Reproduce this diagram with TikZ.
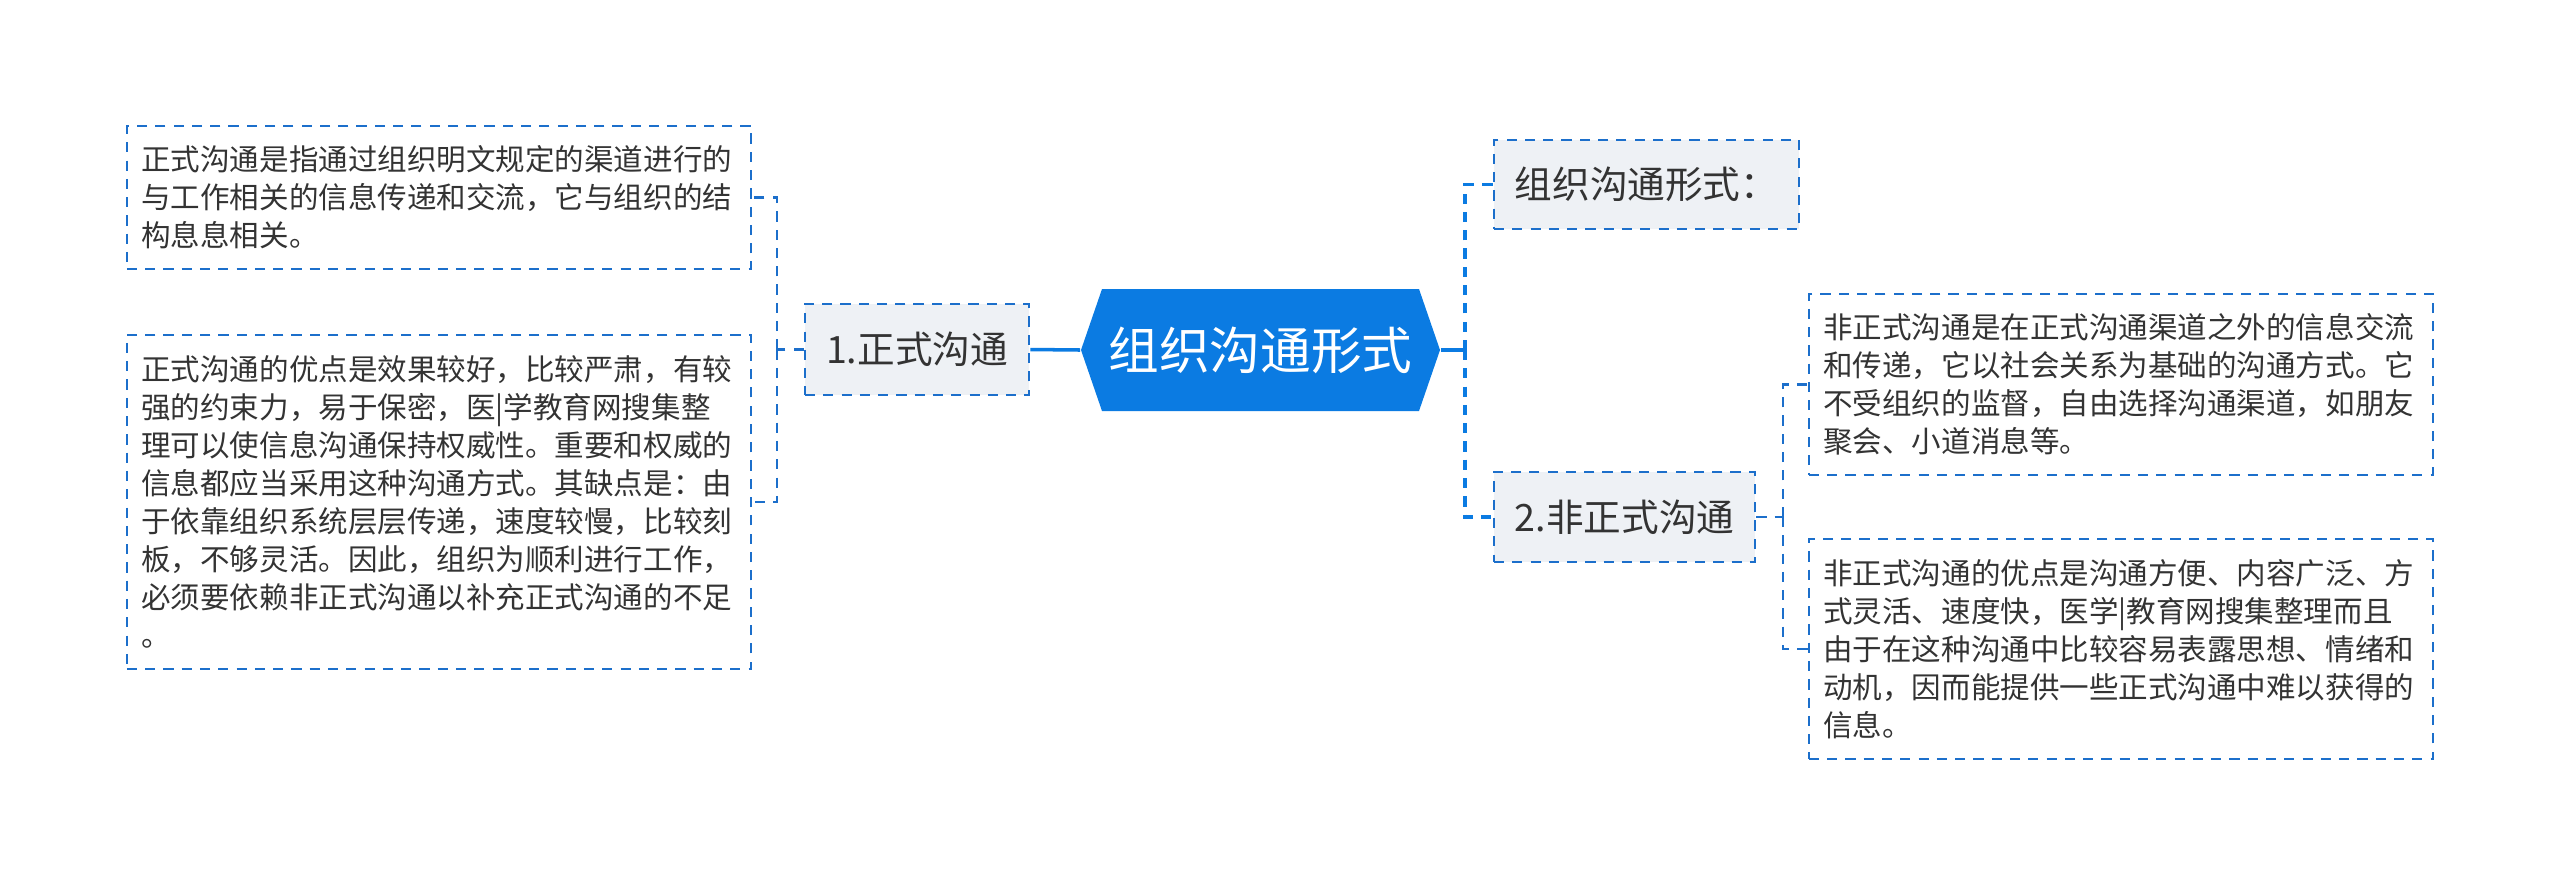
\documentclass[tikz,border=0pt]{standalone}
\usepackage{fontspec}
\setmainfont{Noto Sans CJK SC}
\definecolor{mainblue}{HTML}{0B7BE2}
\definecolor{linkblue}{HTML}{1C6FCB}
\definecolor{topicgray}{HTML}{EEF1F5}
\definecolor{textgray}{HTML}{333333}
\begin{document}
\begin{tikzpicture}[x=0.01cm,y=-0.01cm,
    dashbox/.style={draw=linkblue,line width=0.7pt,dash pattern=on 2.9pt off 2.3pt},
    topic/.style={dashbox,fill=topicgray,text=textgray,inner sep=0pt,
      font=\fontsize{10.7}{13}\selectfont},
    detail/.style={dashbox,text=textgray,align=left,text width=5.95cm,
      inner xsep=0.145cm,inner ysep=0pt,font=\fontsize{8.4}{10.8}\selectfont},
    solidlink/.style={draw=mainblue,line width=1pt},
    rootlink/.style={draw=mainblue,line width=1pt,dash pattern=on 2.9pt off 2.3pt},
    dashlink/.style={draw=linkblue,line width=0.7pt,dash pattern=on 2.9pt off 2.3pt}]
  \useasboundingbox (0,0) rectangle (2560,887);
  % central topic
  \fill[mainblue] (1081,350) -- (1102,289) -- (1419,289) -- (1440,350)
    -- (1419,411) -- (1102,411) -- cycle;
  \node[minimum width=3.59cm,minimum height=1.22cm,inner sep=0pt,text=white,
    font=\fontsize{14.4}{17}\selectfont] (root) at (1260.5,350) {组织沟通形式};
  % left branch
  \node[topic,minimum width=2.24cm,minimum height=0.91cm] (formal) at (917,349.5) {1.正式沟通};
  \node[detail,minimum height=1.43cm] (formaldef) at (439,197.5)
    {正式沟通是指通过组织明文规定的渠道进行的\\与工作相关的信息传递和交流，它与组织的结\\构息息相关。};
  \node[detail,minimum height=3.34cm] (formalpro) at (439,502)
    {正式沟通的优点是效果较好，比较严肃，有较\\强的约束力，易于保密，医|学教育网搜集整\\理可以使信息沟通保持权威性。重要和权威的\\信息都应当采用这种沟通方式。其缺点是：由\\于依靠组织系统层层传递，速度较慢，比较刻\\板，不够灵活。因此，组织为顺利进行工作，\\必须要依赖非正式沟通以补充正式沟通的不足\\。};
  % right branch
  \node[topic,minimum width=3.05cm,minimum height=0.89cm] (forms) at (1646.5,184.5) {组织沟通形式：};
  \node[topic,minimum width=2.61cm,minimum height=0.90cm] (informal) at (1624.5,517) {2.非正式沟通};
  \node[detail,minimum height=1.81cm] (informaldef) at (2121,384.5)
    {非正式沟通是在正式沟通渠道之外的信息交流\\和传递，它以社会关系为基础的沟通方式。它\\不受组织的监督，自由选择沟通渠道，如朋友\\聚会、小道消息等。};
  \node[detail,minimum height=2.20cm] (informalpro) at (2121,649)
    {非正式沟通的优点是沟通方便、内容广泛、方\\式灵活、速度快，医学|教育网搜集整理而且\\由于在这种沟通中比较容易表露思想、情绪和\\动机，因而能提供一些正式沟通中难以获得的\\信息。};
  % connectors
  \coordinate (lj) at (777,349.5);
  \coordinate (rj) at (1465,350);
  \coordinate (ij) at (1783,517);
  \draw[solidlink] (root.west) -- (formal.east);
  \draw[solidlink] (root.east) -- (rj);
  \draw[rootlink] (rj) |- (forms.west);
  \draw[rootlink] (rj) |- (informal.west);
  \draw[dashlink] (formal.west) -- (lj);
  \draw[dashlink] (lj) |- (formaldef.east);
  \draw[dashlink] (lj) |- (formalpro.east);
  \draw[dashlink] (informal.east) -- (ij);
  \draw[dashlink] (ij) |- (informaldef.west);
  \draw[dashlink] (ij) |- (informalpro.west);
\end{tikzpicture}
\end{document}
